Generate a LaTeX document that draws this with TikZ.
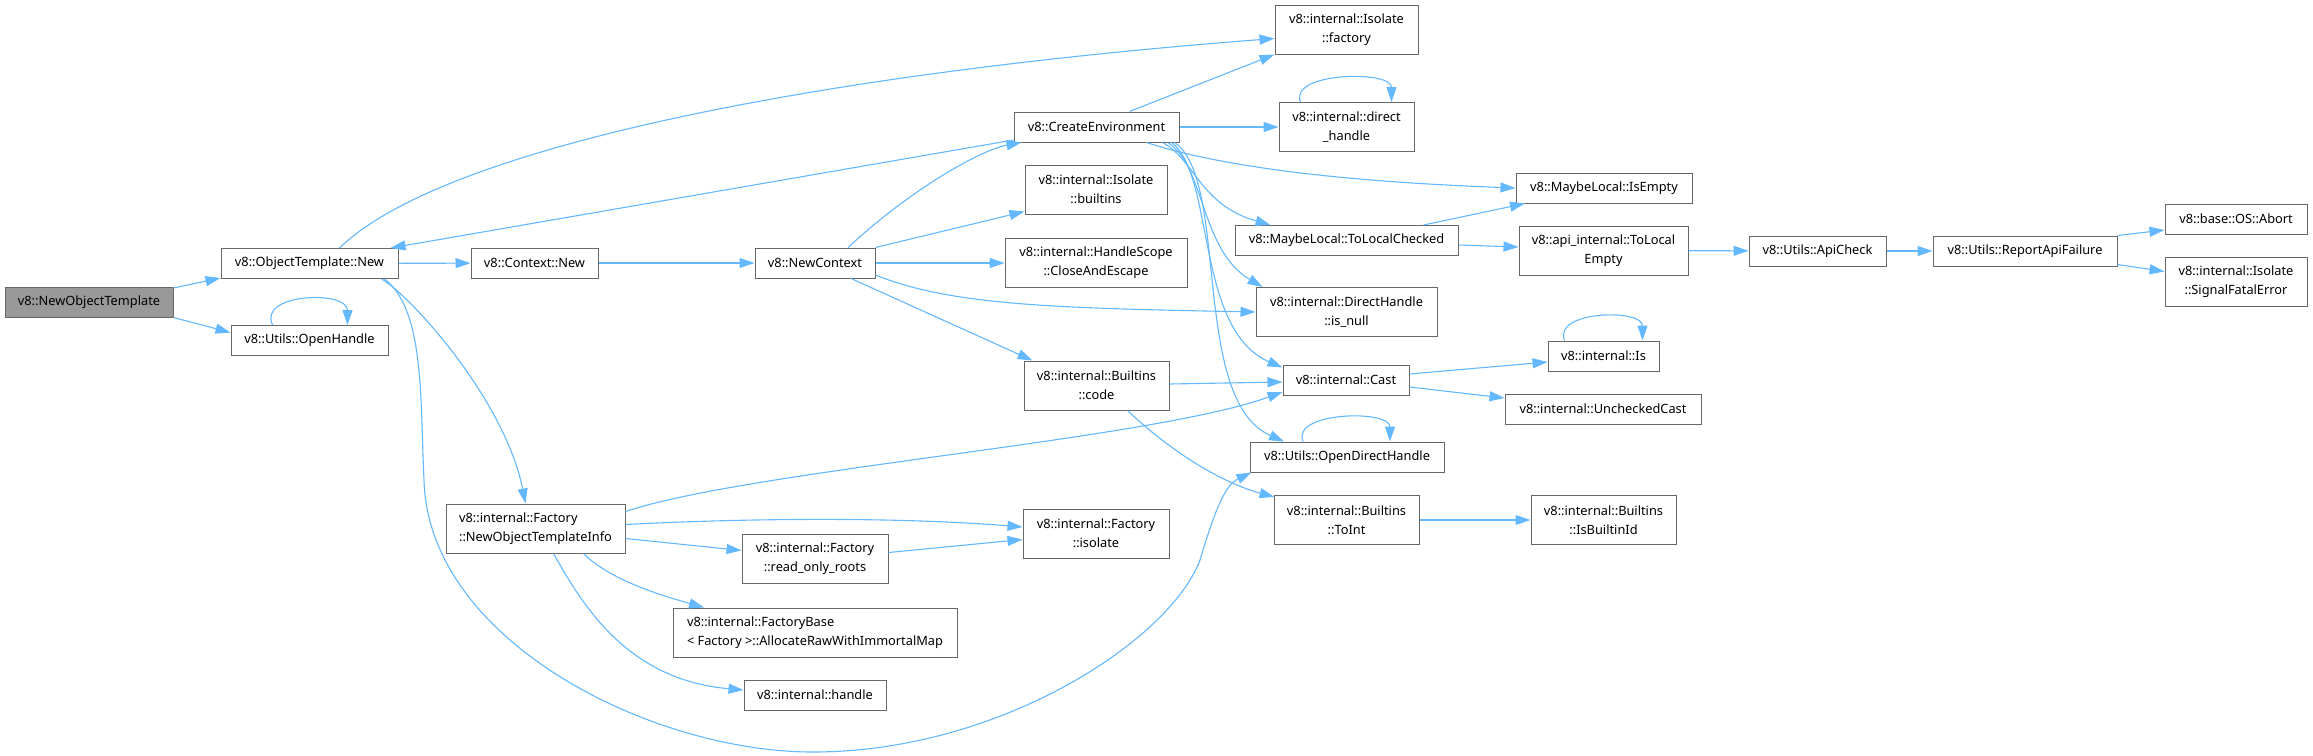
\documentclass[tikz,border=0pt]{standalone}
\usepackage{fontspec}
\setmainfont{Noto Sans}
\usepackage{xcolor}
\usetikzlibrary{arrows.meta}
\definecolor{edgeblue}{HTML}{63B8FF}
\definecolor{boxline}{HTML}{666666}
\definecolor{rootfill}{HTML}{999999}

\begin{document}
\begin{tikzpicture}[
        x=1pt, y=-1pt,
        font=\fontsize{12.8pt}{19pt}\selectfont,
        box/.style={draw=boxline, line width=1pt, fill=white, align=center, inner sep=0pt, minimum height=30pt},
        tall/.style={box, minimum height=49pt},
        arr/.style={draw=edgeblue, line width=1.1pt, -{Triangle[length=15pt, width=10pt]}}
    ]
        \useasboundingbox (0,0) rectangle (2313,755);

        \node[box, fill=rootfill, minimum width=168pt] (nott) at (89,302) {v8::NewObjectTemplate};
        \node[box, minimum width=177pt] (otnew) at (309.5,263.5) {v8::ObjectTemplate::New};
        \node[box, minimum width=157pt] (openh) at (309.5,340.5) {v8::Utils::OpenHandle};
        \node[box, minimum width=127pt] (ctxnew) at (534.5,263) {v8::Context::New};
        \node[box, minimum width=120pt] (newctx) at (815,263) {v8::NewContext};
        \node[tall, align=left, minimum width=179pt] (noti) at (535.5,528.5) {v8::internal::Factory\\::NewObjectTemplateInfo};
        \node[tall, minimum width=143pt] (factory) at (1346.5,29.5) {v8::internal::Isolate\\::factory};
        \node[box, minimum width=165pt] (createenv) at (1096.5,127) {v8::CreateEnvironment};
        \node[tall, minimum width=142pt] (builtins) at (1096,189.5) {v8::internal::Isolate\\::builtins};
        \node[tall, minimum width=182pt] (closeesc) at (1096,263) {v8::internal::HandleScope\\::CloseAndEscape};
        \node[tall, minimum width=145pt] (bcode) at (1096.5,385.5) {v8::internal::Builtins\\::code};
        \node[tall, minimum width=135pt] (dhandle) at (1346.5,127) {v8::internal::direct\\\_handle};
        \node[box, minimum width=223pt] (tlc) at (1346.5,240.5) {v8::MaybeLocal::ToLocalChecked};
        \node[tall, minimum width=181pt] (isnull) at (1346.5,312) {v8::internal::DirectHandle\\::is\_null};
        \node[box, minimum width=126pt] (cast) at (1346,380) {v8::internal::Cast};
        \node[box, minimum width=194pt] (odh) at (1347,457) {v8::Utils::OpenDirectHandle};
        \node[tall, minimum width=145pt] (toint) at (1346.5,520) {v8::internal::Builtins\\::ToInt};
        \node[box, minimum width=176pt] (isempty) at (1604,188) {v8::MaybeLocal::IsEmpty};
        \node[tall, minimum width=169pt] (tle) at (1603.5,250.5) {v8::api\_internal::ToLocal\\Empty};
        \node[box, minimum width=111pt] (is) at (1603.5,356) {v8::internal::Is};
        \node[box, minimum width=196pt] (unchecked) at (1603,409) {v8::internal::UncheckedCast};
        \node[tall, minimum width=145pt] (isbid) at (1603.5,520) {v8::internal::Builtins\\::IsBuiltinId};
        \node[box, minimum width=137pt] (apicheck) at (1817.5,251) {v8::Utils::ApiCheck};
        \node[box, minimum width=184pt] (report) at (2025,251) {v8::Utils::ReportApiFailure};
        \node[box, minimum width=142pt] (abort) at (2236,219) {v8::base::OS::Abort};
        \node[tall, minimum width=142pt] (sfe) at (2236,281.5) {v8::internal::Isolate\\::SignalFatalError};
        \node[tall, minimum width=146pt] (rroots) at (815,558.5) {v8::internal::Factory\\::read\_only\_roots};
        \node[tall, minimum width=146pt] (fisolate) at (1096,533.5) {v8::internal::Factory\\::isolate};
        \node[tall, align=left, minimum width=284pt] (fbase) at (815,632.5) {v8::internal::FactoryBase\\< Factory >::AllocateRawWithImmortalMap};
        \node[box, minimum width=142pt] (handle) at (815,695) {v8::internal::handle};

        \draw[arr] ([yshift=14pt]nott.east) -- ([yshift=1pt]otnew.south west);
        \draw[arr] (nott.south east) -- ([yshift=8pt]openh.west);
        \draw[arr] ([xshift=-37pt]openh.north) .. controls +(-15,-32) and +(0,-35) .. ([xshift=38pt]openh.north);
        \draw[arr] ([xshift=30pt]otnew.north) .. controls (440,150) and (800,75) .. ([yshift=-9pt]factory.west);
        \draw[arr] ([yshift=-13pt]createenv.west) -- ([xshift=-8pt]otnew.north east);
        \draw[arr] (otnew) -- (ctxnew);
        \draw[arr] ([xshift=-17pt]otnew.south east) .. controls (410,295) and (505,400) .. ([xshift=-10pt]noti.north);
        \draw[arr] ([xshift=-14pt]otnew.south east) .. controls (425,310) and (420,400) .. (424,480)
            .. controls (428,640) and (650,752) .. (813,752)
            .. controls (1000,752) and (1170,640) .. (1200,560)
            .. controls (1215,510) and (1225,485) .. ([xshift=2pt]odh.south west);
        \draw[arr] (ctxnew) -- (newctx);
        \draw[arr] ([xshift=33pt]newctx.north) .. controls (910,190) and (980,150) .. ([xshift=8pt]createenv.south west);
        \draw[arr] (newctx.north east) -- ([yshift=-22pt]builtins.west);
        \draw[arr] (newctx) -- (closeesc);
        \draw[arr] ([yshift=-12pt]newctx.east) .. controls (950,305) and (1050,308) .. (isnull.west);
        \draw[arr] ([xshift=36pt]newctx.south) -- ([xshift=-64pt]bcode.north);
        \draw[arr] ([xshift=33pt]createenv.north) -- (factory.south west);
        \draw[arr] (createenv) -- (dhandle);
        \draw[arr] ([xshift=50pt]createenv.south) .. controls (1200,160) and (1300,180) .. (isempty.west);
        \draw[arr] ([xshift=66pt]createenv.south) .. controls (1195,160) and (1200,205) .. ([xshift=-76pt]tlc.north);
        \draw[arr] ([xshift=71pt]createenv.south) .. controls (1205,165) and (1200,250) .. ([xshift=-84pt]isnull.north);
        \draw[arr] ([xshift=75pt]createenv.south) .. controls (1215,175) and (1195,330) .. ([yshift=-3pt]cast.north west);
        \draw[arr] ([xshift=78pt]createenv.south) .. controls (1230,180) and (1190,400) .. ([xshift=-63pt]odh.north);
        \draw[arr] ([xshift=-46pt]dhandle.north) .. controls +(-12,-30) and +(0,-32) .. ([xshift=45pt]dhandle.north);
        \draw[arr] ([xshift=77pt]tlc.north) -- ([xshift=-79pt]isempty.south);
        \draw[arr] ([yshift=-4.5pt]tlc.east) -- ([yshift=3.5pt]tle.west);
        \draw[arr] (tle) -- (apicheck);
        \draw[arr] (apicheck) -- (report);
        \draw[arr] (report.north east) -- ([yshift=-11pt]abort.west);
        \draw[arr] ([yshift=2pt]report.south east) -- ([yshift=10pt]sfe.west);
        \draw[arr] ([yshift=1.5pt]bcode.east) -- ([yshift=-2pt]cast.west);
        \draw[arr] ([xshift=31pt]bcode.south) .. controls (1180,460) and (1230,485) .. ([xshift=-72pt,yshift=-2pt]toint.north);
        \draw[arr] ([yshift=6pt]cast.east) -- ([yshift=-6pt]is.west);
        \draw[arr] ([yshift=-7pt]cast.east) -- ([yshift=11pt]unchecked.west);
        \draw[arr] ([xshift=-39pt]is.north) .. controls +(-12,-30) and +(0,-32) .. ([xshift=39pt]is.north);
        \draw[arr] ([xshift=-44pt]odh.north) .. controls +(-12,-30) and +(0,-32) .. ([xshift=43pt]odh.north);
        \draw[arr] (toint) -- (isbid);
        \draw[arr] ([yshift=17pt]noti.east) .. controls (750,470) and (1150,440) .. ([yshift=-12pt]cast.west);
        \draw[arr] ([yshift=4pt]noti.east) .. controls (750,518) and (900,517) .. ([yshift=6.5pt]fisolate.west);
        \draw[arr] ([yshift=-10pt]noti.east) -- ([yshift=8pt]rroots.west);
        \draw[arr] ([yshift=6pt]rroots.east) -- ([yshift=-6pt]fisolate.west);
        \draw[arr] ([xshift=48pt]noti.south) .. controls (610,580) and (660,595) .. ([xshift=-111pt]fbase.north);
        \draw[arr] ([xshift=18pt]noti.south) .. controls (585,610) and (630,680) .. ([yshift=5pt]handle.west);
    \end{tikzpicture}
\end{document}
